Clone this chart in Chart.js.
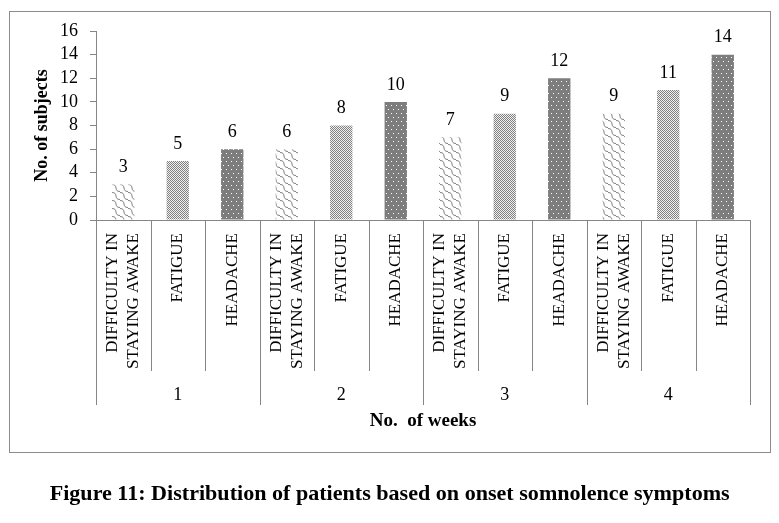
<!DOCTYPE html>
<html><head><meta charset="utf-8">
<script src="https://cdn.jsdelivr.net/npm/chart.js@4.4.1/dist/chart.umd.min.js"></script>
<style>
html,body{margin:0;padding:0;background:#fff;width:779px;height:523px;overflow:hidden;}
#box{position:absolute;left:9px;top:11px;width:760px;height:440px;border:1px solid #8c8c8c;}
#c{position:absolute;left:0;top:0;}
#title{position:absolute;left:0;width:779px;top:478px;text-align:center;font-family:"Liberation Serif",serif;font-weight:bold;font-size:22px;line-height:30px;white-space:nowrap;color:#000;}
#tt{display:inline-block;transform-origin:center;}
</style></head><body>
<div id="box"></div>
<canvas id="c" width="779" height="523"></canvas>
<div id="title"><span id="tt">Figure 11: Distribution of patients based on onset somnolence symptoms</span></div>
<script>
// ---- data ----
const weeks = ['1', '2', '3', '4'];
const symptoms = [['DIFFICULTY IN', 'STAYING AWAKE'], ['FATIGUE'], ['HEADACHE']];
const difficultyValues = [3, 6, 7, 9];
const fatigueValues = [5, 8, 9, 11];
const headacheValues = [6, 10, 12, 14];
const yMin = 0, yMax = 16, yStep = 2;
const xTitle = 'No.  of weeks';
const yTitle = 'No. of subjects';

const FONT = '"Liberation Serif", serif';
const LINE = '#868686';

// build flat category list
const seriesBySymptom = [difficultyValues, fatigueValues, headacheValues];
const labels = [], values = [], symIdx = [];
weeks.forEach((w, wi) => {
  symptoms.forEach((s, si) => {
    labels.push(s);
    values.push(seriesBySymptom[si][wi]);
    symIdx.push(si);
  });
});

// ---- patterns ----
function tile(w, h, draw) {
  const c = document.createElement('canvas');
  c.width = w; c.height = h;
  const g = c.getContext('2d');
  draw(g);
  return g.createPattern(c, 'repeat');
}
const wavePat = tile(8, 8, g => {
  g.fillStyle = '#fff'; g.fillRect(0, 0, 8, 8);
  g.strokeStyle = '#808080'; g.lineWidth = 1;
  g.beginPath();
  g.moveTo(0, 0.5); g.bezierCurveTo(7, 0.5, 1, 7.5, 8, 7.5);
  g.stroke();
});
const checkPat = tile(2, 2, g => {
  g.fillStyle = '#f0f0f0'; g.fillRect(0, 0, 2, 2);
  g.fillStyle = '#808080'; g.fillRect(0, 0, 1, 1); g.fillRect(1, 1, 1, 1);
});
const dotPat = tile(5, 8, g => {
  g.fillStyle = '#7d7d7d'; g.fillRect(0, 0, 5, 8);
  g.fillStyle = '#ffffff'; g.fillRect(1, 1, 1, 1); g.fillRect(3, 5, 1, 1);
});
const patterns = [wavePat, checkPat, dotPat];

// ---- plugin: value labels, category table, week labels ----
const tablePlugin = {
  id: 'tablePlugin',
  afterDatasetsDraw(chart) {
    const ctx = chart.ctx;
    const xs = chart.scales.x;
    const area = chart.chartArea;
    const n = labels.length;
    const w = (xs.right - xs.left) / n;
    ctx.save();
    // value labels
    ctx.fillStyle = '#000';
    ctx.font = '18px ' + FONT;
    ctx.textAlign = 'center';
    ctx.textBaseline = 'middle';
    chart.getDatasetMeta(0).data.forEach((bar, i) => {
      ctx.fillText(String(values[i]), bar.x, bar.y - 17);
    });
    // vertical table lines
    ctx.strokeStyle = LINE;
    ctx.lineWidth = 1;
    const y0 = area.bottom;
    for (let i = 0; i <= n; i++) {
      const x = Math.round(xs.left + i * w) + 0.5;
      const yEnd = (i % symptoms.length === 0) ? 405 : 371;
      ctx.beginPath();
      ctx.moveTo(x, y0);
      ctx.lineTo(x, yEnd);
      ctx.stroke();
    }
    // category labels (rotated)
    ctx.font = '17px ' + FONT;
    ctx.textAlign = 'right';
    ctx.textBaseline = 'middle';
    const lineGap = 21;
    labels.forEach((lab, i) => {
      const cx = xs.getPixelForValue(i);
      const lines = Array.isArray(lab) ? lab : [lab];
      lines.forEach((t, j) => {
        const lx = cx + (j - (lines.length - 1) / 2) * lineGap;
        ctx.save();
        ctx.translate(lx, y0 + 13);
        ctx.rotate(-Math.PI / 2);
        ctx.fillText(t, 0, 0);
        ctx.restore();
      });
    });
    // week labels
    ctx.font = '18px ' + FONT;
    ctx.textAlign = 'center';
    ctx.textBaseline = 'middle';
    weeks.forEach((wk, wi) => {
      const a = xs.getPixelForValue(wi * symptoms.length);
      const b = xs.getPixelForValue(wi * symptoms.length + symptoms.length - 1);
      ctx.fillText(wk, (a + b) / 2, 395);
    });
    ctx.restore();
  }
};

Chart.defaults.font.family = FONT;
Chart.defaults.color = '#000';

new Chart(document.getElementById('c'), {
  type: 'bar',
  data: {
    labels: labels,
    datasets: [{
      data: values,
      backgroundColor: symIdx.map(s => patterns[s]),
      borderWidth: 0,
      barPercentage: 0.41,
      categoryPercentage: 1.0
    }]
  },
  options: {
    responsive: false,
    animation: false,
    devicePixelRatio: 1,
    layout: { padding: { left: 28, top: 31, right: 29, bottom: 87 } },
    plugins: { legend: { display: false }, tooltip: { enabled: false }, title: { display: false } },
    scales: {
      x: {
        type: 'category',
        offset: true,
        grid: { display: false, drawTicks: false },
        border: { display: true, color: LINE, width: 1 },
        ticks: { display: false },
        title: { display: true, text: xTitle, color: '#000', font: { family: FONT, size: 19, weight: 'bold' }, padding: { top: 4, bottom: 4 } },
        afterFit(s) { s.height = 216; }
      },
      y: {
        min: yMin, max: yMax,
        afterBuildTicks(s) {
          const t = [];
          for (let v = yMin; v <= yMax; v += yStep) t.push({ value: v });
          s.ticks = t;
        },
        ticks: { stepSize: yStep, autoSkip: false, color: '#000', font: { family: FONT, size: 18 }, padding: 12 },
        grid: { display: true, drawOnChartArea: false, drawTicks: true, tickLength: 6, color: LINE },
        border: { display: true, color: LINE, width: 1 },
        title: { display: true, text: yTitle, color: '#000', font: { family: FONT, size: 18, weight: 'bold' }, padding: { top: 4, bottom: 4 } },
        afterFit(s) { s.width = 68; }
      }
    }
  },
  plugins: [tablePlugin]
});

// fit title width
const tt = document.getElementById('tt');
const tw = tt.getBoundingClientRect().width;
if (tw > 0) tt.style.transform = 'scaleX(' + (680 / tw) + ')';
</script>
</body></html>
